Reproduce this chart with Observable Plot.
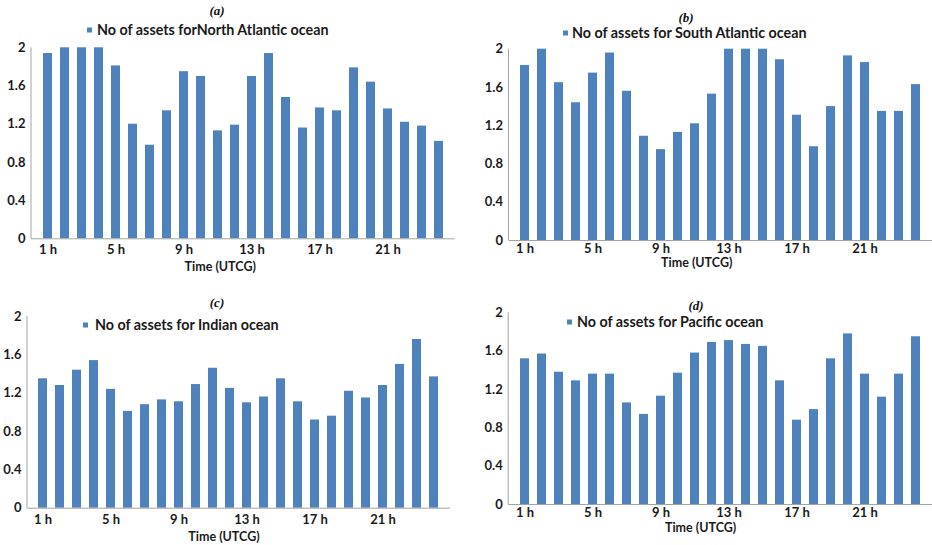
<!DOCTYPE html>
<html>
<head>
<meta charset="utf-8">
<script src="https://cdn.jsdelivr.net/npm/d3@7"></script>
<script src="https://cdn.jsdelivr.net/npm/@observablehq/plot@0.6"></script>
<style>
  html, body { margin: 0; padding: 0; background: #fff; }
  #chart { position: relative; width: 932px; height: 545px; overflow: hidden; font-family: Lato, sans-serif; }
  .panel { position: absolute; }
  .tag { position: absolute; font-family: "Liberation Serif", serif; font-style: italic; font-weight: bold;
         font-size: 13px; line-height: 1; color: #111; transform: translate(-50%, -50%); white-space: nowrap; }
  .legend { position: absolute; font-family: Lato, sans-serif; font-weight: bold; font-size: 14.3px; line-height: 1;
            color: #1a1a1a; transform: translateY(-50%); white-space: nowrap; }
  .swatch { position: absolute; width: 5px; height: 5px; background: #4f81bd; transform: translateY(-50%); }
</style>
</head>
<body>
<div id="chart"></div>
<script>
// Hour of day (UTCG)
const hours = [1, 2, 3, 4, 5, 6, 7, 8, 9, 10, 11, 12, 13, 14, 15, 16, 17, 18, 19, 20, 21, 22, 23, 24];
const hourTicks = [1, 5, 9, 13, 17, 21];
const yTicks = [0, 0.4, 0.8, 1.2, 1.6, 2];

// Number of assets per hour, by ocean region
const northAtlantic = [1.94, 2.0, 2.0, 2.0, 1.81, 1.20, 0.98, 1.34, 1.75, 1.70, 1.13, 1.19, 1.70, 1.94, 1.48, 1.16, 1.37, 1.34, 1.79, 1.64, 1.36, 1.22, 1.18, 1.02];
const southAtlantic = [1.83, 2.0, 1.65, 1.44, 1.75, 1.96, 1.56, 1.09, 0.95, 1.13, 1.22, 1.53, 2.0, 2.0, 2.0, 1.89, 1.31, 0.98, 1.40, 1.93, 1.86, 1.35, 1.35, 1.63];
const indian = [1.35, 1.28, 1.44, 1.54, 1.24, 1.01, 1.08, 1.13, 1.11, 1.29, 1.46, 1.25, 1.10, 1.16, 1.35, 1.11, 0.92, 0.96, 1.22, 1.15, 1.28, 1.50, 1.76, 1.37];
const pacific = [1.52, 1.57, 1.38, 1.29, 1.36, 1.36, 1.06, 0.94, 1.13, 1.37, 1.58, 1.69, 1.71, 1.67, 1.65, 1.29, 0.88, 0.99, 1.52, 1.78, 1.36, 1.12, 1.36, 1.75];

const tags = ["(a)", "(b)", "(c)", "(d)"];
const seriesNames = [
  "No of assets forNorth Atlantic ocean",
  "No of assets for South Atlantic ocean",
  "No of assets for Indian ocean",
  "No of assets for Pacific ocean"
];
const axisTitle = "Time (UTCG)";

const BAR = "#4f81bd";
const AXIS = "#a3a3a3";

// Panel layout: svg box, margins [top, right, bottom, left], label offsets
const layout = [
  {values: northAtlantic, box: [0, 0, 466, 280],     margin: [47.3, 11.5, 41.7, 31], xPad: 6, title: [-23, 28.5], tag: [217, 10],  legend: [87, 30, 97]},
  {values: southAtlantic, box: [466, 0, 466, 280],   margin: [48.7, 0, 40, 42.5],    xPad: 3, title: [-24, 22.5], tag: [686, 17],  legend: [563, 33, 572]},
  {values: indian,        box: [0, 280, 466, 265],   margin: [36, 16, 37.3, 27],     xPad: 7, title: [-15, 28.5], tag: [217, 302], legend: [83, 325, 95]},
  {values: pacific,       box: [466, 280, 466, 265], margin: [32.3, 0, 41, 42.2],    xPad: 3, title: [-20, 23.5], tag: [696, 305], legend: [567, 322, 577]}
];

const chart = document.getElementById("chart");

// vertical value-axis line at the left edge of the frame
function leftAxisLine(index, scales, values, dims) {
  return d3.create("svg:line")
    .attr("x1", dims.marginLeft).attr("x2", dims.marginLeft)
    .attr("y1", scales.y(0)).attr("y2", scales.y(2))
    .attr("stroke", AXIS).attr("stroke-width", 1)
    .node();
}

layout.forEach((p, k) => {
  const rows = hours.map((h, i) => ({hour: h, value: p.values[i]}));
  const [left, top, width, height] = p.box;
  const [mt, mr, mb, ml] = p.margin;

  const svg = Plot.plot({
    width, height,
    marginTop: mt, marginRight: mr, marginBottom: mb, marginLeft: ml,
    style: {fontFamily: "Lato, sans-serif", fontSize: "13px", fontWeight: "bold", color: "#1a1a1a", background: "transparent"},
    x: {type: "band", domain: hours, paddingInner: 0.47, paddingOuter: 0.235},
    y: {domain: [0, 2]},
    marks: [
      Plot.barY(rows, {x: "hour", y: "value", fill: BAR}),
      Plot.ruleY([0], {stroke: AXIS}),
      leftAxisLine,
      Plot.axisX({ticks: hourTicks, tickSize: 0, tickPadding: p.xPad, tickFormat: d => `${d} h`, label: null}),
      Plot.axisY({ticks: yTicks, tickSize: 0, tickPadding: 6, tickFormat: d => String(+d.toFixed(1)), label: null}),
      Plot.text([axisTitle], {text: d => d, frameAnchor: "bottom", dx: p.title[0], dy: p.title[1], lineAnchor: "middle", fontWeight: "bold", fontSize: 12.5})
    ]
  });
  const holder = document.createElement("div");
  holder.className = "panel";
  holder.style.left = left + "px";
  holder.style.top = top + "px";
  holder.appendChild(svg);
  chart.appendChild(holder);

  const tag = document.createElement("div");
  tag.className = "tag";
  tag.style.left = p.tag[0] + "px";
  tag.style.top = p.tag[1] + "px";
  tag.textContent = tags[k];
  chart.appendChild(tag);

  const sw = document.createElement("div");
  sw.className = "swatch";
  sw.style.left = p.legend[0] + "px";
  sw.style.top = p.legend[1] + "px";
  chart.appendChild(sw);

  const lg = document.createElement("div");
  lg.className = "legend";
  lg.style.left = p.legend[2] + "px";
  lg.style.top = p.legend[1] + "px";
  lg.textContent = seriesNames[k];
  chart.appendChild(lg);
});
</script>
</body>
</html>
